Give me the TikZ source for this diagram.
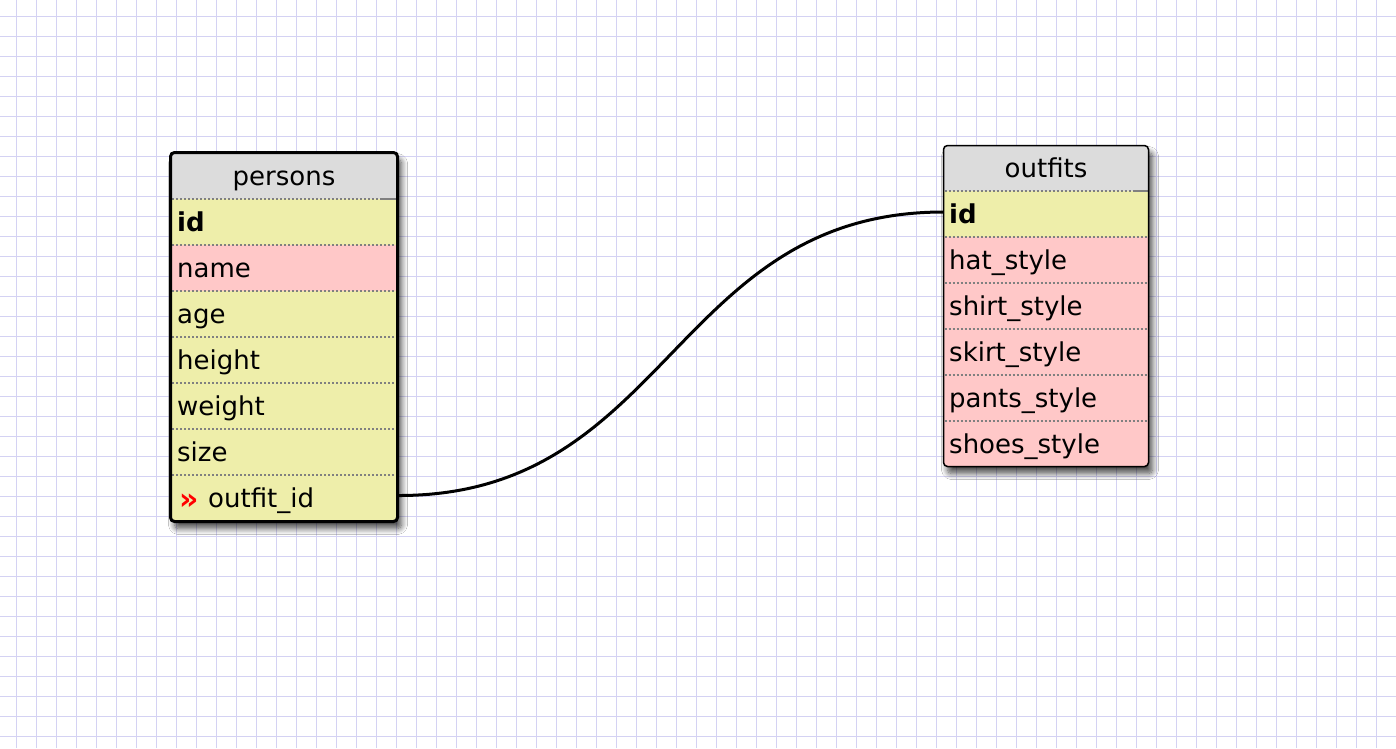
\documentclass[tikz,border=0pt]{standalone}
\usepackage{fontspec}
\setmainfont{DejaVu Sans}
\usetikzlibrary{shadows.blur,calc}
\definecolor{gridc}{RGB}{212,210,243}
\definecolor{hdr}{RGB}{220,220,220}
\definecolor{yel}{RGB}{238,238,170}
\definecolor{pnk}{RGB}{255,200,200}
\definecolor{sepc}{RGB}{128,128,128}
\begin{document}
\begin{tikzpicture}[x=1pt,y=-1pt,
  rowbox/.style={rectangle, draw=none, anchor=north west, inner sep=0pt, outer sep=0pt, minimum height=46pt},
  frame/.style={rectangle, rounded corners=4pt, anchor=north west, inner sep=0pt, outer sep=0pt, fill=white,
     blur shadow={shadow xshift=4pt, shadow yshift=-7pt, shadow blur radius=6pt, shadow blur steps=10, shadow opacity=70}},
  txt/.style={anchor=base west, inner sep=0pt, font=\fontsize{26}{30}\selectfont},
  htxt/.style={anchor=base, inner sep=0pt, font=\fontsize{26}{30}\selectfont},
  rowsep/.style={draw=sepc, line width=1.5pt, dash pattern=on 2pt off 2pt},
  rel/.style={draw=black, line width=3pt}]
\useasboundingbox (0,0) rectangle (1396,748);
\fill[white] (0,0) rectangle (1396,748);
% grid
\foreach \i in {0,...,69} {\draw[gridc, line width=1.8pt] (16.5+20*\i,0) -- (16.5+20*\i,748);}
\foreach \j in {0,...,36} {\draw[gridc, line width=1.8pt] (0,16.5+20*\j) -- (1396,16.5+20*\j);}

% ---------- persons ----------
\node[frame, minimum width=227pt, minimum height=369pt] (persons) at (170.5,152.5) {};
\begin{scope}
\clip[rounded corners=4pt] (170.5,152.5) rectangle (397.5,521.5);
\node[rowbox, fill=hdr, minimum width=227pt, minimum height=47pt] (p-h) at (170.5,152.5) {};
\node[rowbox, fill=yel, minimum width=227pt] (p-id) at (170.5,199) {};
\node[rowbox, fill=pnk, minimum width=227pt] (p-name) at (170.5,245) {};
\node[rowbox, fill=yel, minimum width=227pt] (p-age) at (170.5,291) {};
\node[rowbox, fill=yel, minimum width=227pt] (p-height) at (170.5,337) {};
\node[rowbox, fill=yel, minimum width=227pt] (p-weight) at (170.5,383) {};
\node[rowbox, fill=yel, minimum width=227pt] (p-size) at (170.5,429) {};
\node[rowbox, fill=yel, minimum width=227pt, minimum height=47pt] (p-fk) at (170.5,475) {};
\end{scope}
\foreach \y in {199,245,291,337,383,429,475} {\draw[rowsep] (172,\y) -- (396,\y);}
\draw[sepc, line width=1.5pt] (382,199) -- (396,199);
\draw[black, line width=3pt, rounded corners=4pt] (persons.north west) rectangle (persons.south east);
\node[htxt] (t-persons) at (284,185) {persons};
\node[txt] (t-pid) at (177,231) {\bfseries id};
\node[txt] (t-pname) at (177,277) {name};
\node[txt] (t-page) at (177,323) {age};
\node[txt] (t-pheight) at (177,369) {height};
\node[txt] (t-pweight) at (177,415) {weight};
\node[txt] (t-psize) at (177,461) {size};
\node[txt, text=red, font=\fontsize{30}{34}\selectfont\bfseries] (t-fkmark) at (179,509) {»};
\node[txt] (t-pfk) at (208,507) {outfit\_id};

% ---------- outfits ----------
\node[frame, minimum width=205pt, minimum height=321pt] (outfits) at (943.5,145.5) {};
\begin{scope}
\clip[rounded corners=4pt] (943.5,145.5) rectangle (1148.5,466.5);
\node[rowbox, fill=hdr, minimum width=205pt, minimum height=46pt] (o-h) at (943.5,145.5) {};
\node[rowbox, fill=yel, minimum width=205pt] (o-id) at (943.5,191) {};
\node[rowbox, fill=pnk, minimum width=205pt] (o-hat) at (943.5,237) {};
\node[rowbox, fill=pnk, minimum width=205pt] (o-shirt) at (943.5,283) {};
\node[rowbox, fill=pnk, minimum width=205pt] (o-skirt) at (943.5,329) {};
\node[rowbox, fill=pnk, minimum width=205pt] (o-pants) at (943.5,375) {};
\node[rowbox, fill=pnk, minimum width=205pt] (o-shoes) at (943.5,421) {};
\end{scope}
\foreach \y in {191,237,283,329,375,421} {\draw[rowsep] (944.5,\y) -- (1147.5,\y);}
\draw[sepc, line width=1.5pt] (1133,191) -- (1147.5,191);
\draw[black, line width=1.5pt, rounded corners=4pt] (outfits.north west) rectangle (outfits.south east);
\node[htxt] (t-outfits) at (1046,177) {outfits};
\node[txt] (t-oid) at (949,223) {\bfseries id};
\node[txt] (t-ohat) at (949,269) {hat\_style};
\node[txt] (t-oshirt) at (949,315) {shirt\_style};
\node[txt] (t-oskirt) at (949,361) {skirt\_style};
\node[txt] (t-opants) at (949,407) {pants\_style};
\node[txt] (t-oshoes) at (949,453) {shoes\_style};

% ---------- relation ----------
\draw[rel] ($(p-fk.east)+(1.5,-3)$) .. controls +(270,0) and +(-270,0) .. ($(o-id.west)+(0,-2)$);
\end{tikzpicture}
\end{document}
